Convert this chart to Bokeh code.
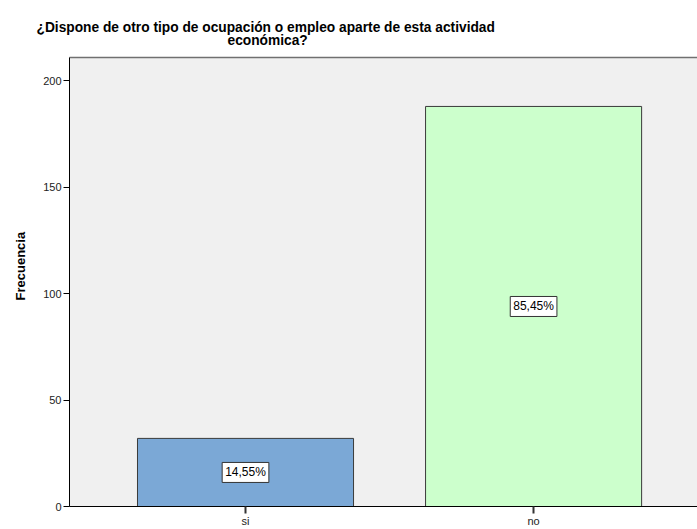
from bokeh.plotting import figure
from bokeh.models import Range1d, FixedTicker, LinearAxis, Label, ColumnDataSource, Title
from bokeh.embed import file_html
from bokeh.resources import INLINE

categories = ["si", "no"]
frequencies = [32, 188]
y_ticks = [0, 50, 100, 150, 200]
title_lines = ["¿Dispone de otro tipo de ocupación o empleo aparte de esta actividad",
               "económica?"]
y_label = "Frecuencia"
bar_colors = ["#7BA8D6", "#CCFFCC"]

total = sum(frequencies)
xs = list(range(len(categories)))
pct = [f"{f / total * 100:.2f}".replace(".", ",") + "%" for f in frequencies]

FONT = "Liberation Sans"
Y_END = 211

p = figure(width=697, height=529, output_backend="svg", toolbar_location=None,
           x_range=Range1d(-0.611, 1.569), y_range=Range1d(0, Y_END),
           min_border_left=69, min_border_right=0, min_border_top=57, min_border_bottom=21)
p.background_fill_color = "#F0F0F0"
p.border_fill_color = "white"
p.outline_line_color = None
p.xgrid.visible = False
p.ygrid.visible = False

src = ColumnDataSource(dict(x=xs, top=frequencies, color=bar_colors))
p.vbar(x="x", top="top", bottom=0, width=0.75, fill_color="color",
       line_color="#3A3A3A", line_width=1, source=src)

# y axis
ya = p.yaxis[0]
ya.ticker = FixedTicker(ticks=y_ticks)
ya.axis_line_color = "black"
ya.axis_line_width = 1
ya.major_tick_line_color = "black"
ya.major_tick_out = 6
ya.major_tick_in = 0
ya.minor_tick_line_color = None
ya.major_label_text_font = FONT
ya.major_label_text_font_size = "11px"
ya.major_label_text_color = "#222222"
ya.major_label_standoff = 2

# x axis
xa = p.xaxis[0]
xa.ticker = FixedTicker(ticks=xs)
xa.major_label_overrides = {i: c for i, c in zip(xs, categories)}
xa.axis_line_color = "black"
xa.major_tick_line_color = "#333333"
xa.major_tick_line_width = 2
xa.major_tick_out = 7
xa.major_tick_in = 0
xa.minor_tick_line_color = None
xa.major_label_text_font = FONT
xa.major_label_text_font_size = "11px"
xa.major_label_text_color = "#222222"
xa.major_label_standoff = 1

# top border
top_axis = LinearAxis(axis_line_color="#707070", axis_line_width=1.5,
                      major_tick_line_color=None, minor_tick_line_color=None,
                      major_label_text_font_size="0px", major_label_text_color=None)
p.add_layout(top_axis, "above")

# percentage labels
for x, f, t in zip(xs, frequencies, pct):
    p.add_layout(Label(x=x, y=f / 2, text=t, text_align="center", text_baseline="middle",
                       text_font=FONT, text_font_size="12px", text_color="black",
                       background_fill_color="white", border_line_color="#333333",
                       border_line_width=1, padding=3))

# title (two lines; the first one added sits nearest the frame)
p.add_layout(Title(text=title_lines[1], align="left", offset=158, standoff=7,
                   text_font=FONT, text_font_size="13.75px", text_font_style="bold",
                   text_color="black"), "above")
p.add_layout(Title(text=title_lines[0], align="left", offset=-33, standoff=-15,
                   text_font=FONT, text_font_size="13.75px", text_font_style="bold",
                   text_color="black"), "above")

# y label
p.add_layout(Title(text=y_label, align="left", offset=206, standoff=22,
                   vertical_align="top",
                   text_font=FONT, text_font_size="13px", text_font_style="bold",
                   text_color="black"), "left")

open("out.html", "w").write(file_html(p, INLINE))
